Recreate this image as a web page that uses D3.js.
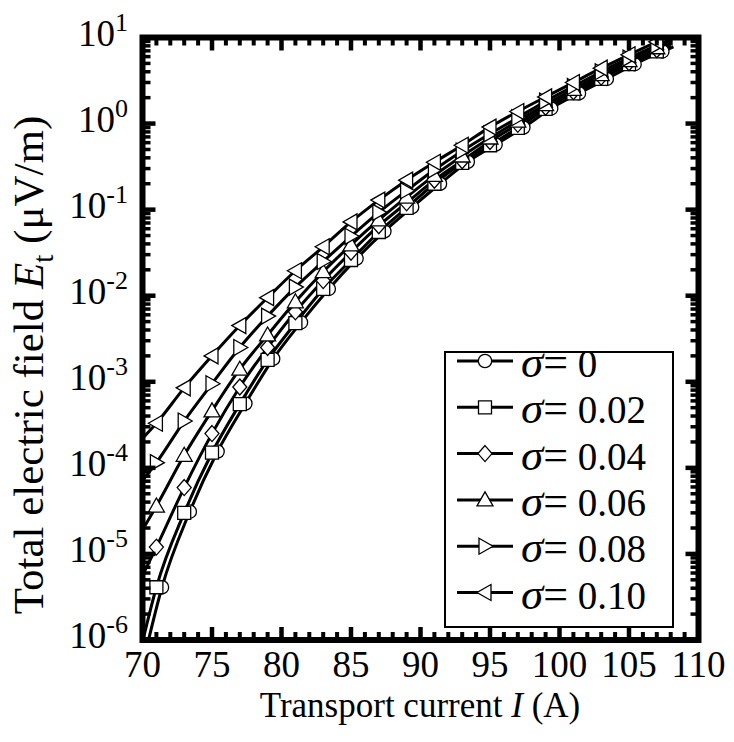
<!DOCTYPE html>
<html>
	<head>
		<style>
			body { margin: 0; background: #fff; }
			text { font-family: "Liberation Serif", "Times New Roman", serif; fill: #000; }
		</style>
	</head>
	<body>
		<script src="https://cdn.jsdelivr.net/npm/d3@7/dist/d3.min.js"></script>

		<div id="canvas"></div>

		<script>
			// currents (A) for each curve, markers sit on all but the first and last point
			var currentSigma0 = [70.4, 71.4, 73.4, 75.4, 77.4, 79.4, 81.4, 83.4, 85.4, 87.4, 89.4, 91.4, 93.4, 95.4, 97.4, 99.4, 101.4, 103.4, 105.4, 107.4, 108.2];
			var current = [70, 71, 73, 75, 77, 79, 81, 83, 85, 87, 89, 91, 93, 95, 97, 99, 101, 103, 105, 107, 108];

			// total electric field (uV/m)
			var fieldSigma000 = [9.5e-7, 4.1e-6, 3.1e-5, 1.55e-4, 5.6e-4, 1.85e-3, 4.9e-3, 1.2e-2, 2.7e-2, 5.6e-2, 0.107, 0.20, 0.36, 0.57, 0.90, 1.5, 2.25, 3.3, 4.9, 6.9, 7.8];
			var fieldSigma002 = [9.5e-7, 4.1e-6, 3.0e-5, 1.5e-4, 5.5e-4, 1.8e-3, 4.8e-3, 1.2e-2, 2.6e-2, 5.5e-2, 0.105, 0.20, 0.35, 0.56, 0.89, 1.48, 2.24, 3.3, 4.9, 6.9, 8.1];
			var fieldSigma004 = [5.6e-6, 1.2e-5, 5.9e-5, 2.5e-4, 8.7e-4, 2.5e-3, 6.5e-3, 1.5e-2, 3.2e-2, 6.5e-2, 0.12, 0.22, 0.37, 0.62, 0.98, 1.55, 2.34, 3.47, 5.1, 7.2, 8.5];
			var fieldSigma006 = [1.9e-5, 3.6e-5, 1.4e-4, 4.6e-4, 1.4e-3, 3.5e-3, 8.5e-3, 1.9e-2, 3.9e-2, 7.6e-2, 0.14, 0.25, 0.42, 0.68, 1.07, 1.66, 2.5, 3.7, 5.4, 7.6, 8.9];
			var fieldSigma008 = [7.1e-5, 1.15e-4, 3.5e-4, 9.5e-4, 2.5e-3, 5.8e-3, 1.26e-2, 2.5e-2, 4.9e-2, 9.3e-2, 0.166, 0.29, 0.48, 0.76, 1.17, 1.82, 2.7, 4.0, 5.75, 8.1, 9.5];
			var fieldSigma010 = [2.2e-4, 3.3e-4, 8.5e-4, 2.0e-3, 4.5e-3, 9.5e-3, 1.95e-2, 3.7e-2, 7.2e-2, 0.129, 0.22, 0.355, 0.56, 0.91, 1.38, 2.04, 3.0, 4.4, 6.3, 8.9, 10.5];

			var sigmaLabels = ["0", "0.02", "0.04", "0.06", "0.08", "0.10"];
			var markerShapes = ["circle", "square", "diamond", "up", "right", "left"];

			var xTicks = [70, 75, 80, 85, 90, 95, 100, 105, 110];
			var yTickExponents = [1, 0, -1, -2, -3, -4, -5, -6];

			var series = [
				{ x: currentSigma0, y: fieldSigma000 },
				{ x: current, y: fieldSigma002 },
				{ x: current, y: fieldSigma004 },
				{ x: current, y: fieldSigma006 },
				{ x: current, y: fieldSigma008 },
				{ x: current, y: fieldSigma010 }
			];
			series.forEach(function (s, i) {
				s.points = s.x.map(function (v, j) { return { I: v, E: s.y[j] }; });
				s.shape = markerShapes[i];
				s.label = sigmaLabels[i];
			});

			var width = 734;
			var height = 742;
			// plot box edges (window.top is reserved, so prefixed names)
			var pLeft = 142.5, pRight = 698.5, pTop = 37.5, pBottom = 640;

			var svg = d3.select("#canvas")
				.append("svg")
				.attr("width", width)
				.attr("height", height);

			var x = d3.scaleLinear().domain([70, 110]).range([pLeft, pRight]);
			var y = d3.scaleLog().domain([1e-6, 10]).range([pBottom, pTop]);

			svg.append("clipPath")
				.attr("id", "plotclip")
				.append("rect")
				.attr("x", pLeft)
				.attr("y", pTop)
				.attr("width", pRight - pLeft)
				.attr("height", pBottom - pTop);

			// marker paths centered on 0,0
			function markerPath(shape) {
				switch (shape) {
					case "circle": return d3.symbol().type(d3.symbolCircle).size(140)();
					case "square": return "M-6.5,-6.5H6.5V6.5H-6.5Z";
					case "diamond": return "M0,-8L7,0L0,8L-7,0Z";
					case "up": return "M0,-8L8,6L-8,6Z";
					case "right": return "M-6,-8L8,0L-6,8Z";
					case "left": return "M6,-8L-8,0L6,8Z";
				}
			}

			var line = d3.line()
				.x(function (d) { return x(d.I); })
				.y(function (d) { return y(d.E); })
				.curve(d3.curveMonotoneX);

			var plot = svg.append("g").attr("clip-path", "url(#plotclip)");

			plot.selectAll(".curve")
				.data(series)
				.enter()
				.append("path")
				.attr("class", "curve")
				.attr("d", function (d) { return line(d.points); })
				.style("fill", "none")
				.style("stroke", "#000")
				.style("stroke-width", 3);

			series.forEach(function (s) {
				var pts = s.points.slice(1, s.points.length - 1);
				plot.selectAll(".m-" + s.shape)
					.data(pts)
					.enter()
					.append("path")
					.attr("class", "m-" + s.shape)
					.attr("transform", function (d) { return "translate(" + x(d.I) + "," + y(d.E) + ")"; })
					.attr("d", markerPath(s.shape))
					.style("fill", "#fff")
					.style("stroke", "#000")
					.style("stroke-width", 1.3);
			});

			// ticks, drawn inward on all four sides
			var tickGroup = svg.append("g");
			var xMinor = d3.range(70, 111, 1);
			xMinor.forEach(function (v) {
				var major = v % 5 == 0;
				var len = major ? 13 : 8;
				var w = major ? 4.5 : 4;
				tickGroup.append("line").attr("x1", x(v)).attr("x2", x(v)).attr("y1", pBottom).attr("y2", pBottom - len)
					.style("stroke", "#000").style("stroke-width", w);
				tickGroup.append("line").attr("x1", x(v)).attr("x2", x(v)).attr("y1", pTop).attr("y2", pTop + len)
					.style("stroke", "#000").style("stroke-width", w);
			});
			var yMinor = [];
			for (var e = -6; e < 1; e++) {
				for (var m = 1; m < 10; m++) yMinor.push({ v: m * Math.pow(10, e), major: m == 1 });
			}
			yMinor.push({ v: 10, major: true });
			yMinor.forEach(function (t) {
				var len = t.major ? 13 : 8;
				var w = t.major ? 4.5 : 3.5;
				tickGroup.append("line").attr("x1", pLeft).attr("x2", pLeft + len).attr("y1", y(t.v)).attr("y2", y(t.v))
					.style("stroke", "#000").style("stroke-width", w);
				tickGroup.append("line").attr("x1", pRight).attr("x2", pRight - len).attr("y1", y(t.v)).attr("y2", y(t.v))
					.style("stroke", "#000").style("stroke-width", w);
			});

			// frame
			svg.append("rect")
				.attr("x", pLeft)
				.attr("y", pTop)
				.attr("width", pRight - pLeft)
				.attr("height", pBottom - pTop)
				.style("fill", "none")
				.style("stroke", "#000")
				.style("stroke-width", 6);

			// tick labels
			svg.selectAll(".xlabel")
				.data(xTicks)
				.enter()
				.append("text")
				.attr("class", "xlabel")
				.attr("x", function (d) { return x(d); })
				.attr("y", 677)
				.attr("text-anchor", "middle")
				.style("font-size", "37px")
				.text(function (d) { return d; });

			var ylab = svg.selectAll(".ylabel")
				.data(yTickExponents)
				.enter()
				.append("text")
				.attr("class", "ylabel")
				.attr("x", 128)
				.attr("y", function (d) { return y(Math.pow(10, d)) + 8; })
				.attr("text-anchor", "end")
				.style("font-size", "37px");
			ylab.append("tspan").text("10");
			ylab.append("tspan")
				.attr("dy", -15)
				.style("font-size", "26px")
				.text(function (d) { return d < 0 ? "-" + (-d) : d; });

			// axis titles
			var xt = svg.append("text")
				.attr("x", 420)
				.attr("y", 717)
				.attr("text-anchor", "middle")
				.style("font-size", "35px");
			xt.append("tspan").text("Transport current ");
			xt.append("tspan").style("font-style", "italic").text("I");
			xt.append("tspan").text(" (A)");

			var yt = svg.append("text")
				.attr("transform", "translate(43,365) rotate(-90)")
				.attr("text-anchor", "middle")
				.style("font-size", "43px");
			yt.append("tspan").text("Total electric field ");
			yt.append("tspan").style("font-style", "italic").text("E");
			yt.append("tspan").attr("dy", 10).style("font-size", "29px").text("t");
			yt.append("tspan").attr("dy", -10).text(" (\u03bcV/m)");

			// legend
			var legend = svg.append("g");
			legend.append("rect")
				.attr("x", 445)
				.attr("y", 352)
				.attr("width", 228)
				.attr("height", 275)
				.style("fill", "#fff")
				.style("stroke", "#000")
				.style("stroke-width", 2);

			var entry = legend.selectAll(".entry")
				.data(series)
				.enter()
				.append("g")
				.attr("class", "entry")
				.attr("transform", function (d, i) { return "translate(0," + (361 + i * 46.3) + ")"; });
			entry.append("line")
				.attr("x1", 457).attr("x2", 513).attr("y1", 0).attr("y2", 0)
				.style("stroke", "#000").style("stroke-width", 3);
			entry.append("path")
				.attr("transform", "translate(485,0)")
				.attr("d", function (d) { return markerPath(d.shape); })
				.style("fill", "#fff")
				.style("stroke", "#000")
				.style("stroke-width", 1.3);
			var lt = entry.append("text")
				.attr("x", 521)
				.attr("y", 16)
				.style("font-size", "39px");
			lt.append("tspan").style("font-style", "italic").style("font-size", "45px").text("\u03c3");
			lt.append("tspan").style("font-size", "44px").text("=");
			lt.append("tspan").text(function (d) { return " " + d.label; });
		</script>
	</body>
</html>
